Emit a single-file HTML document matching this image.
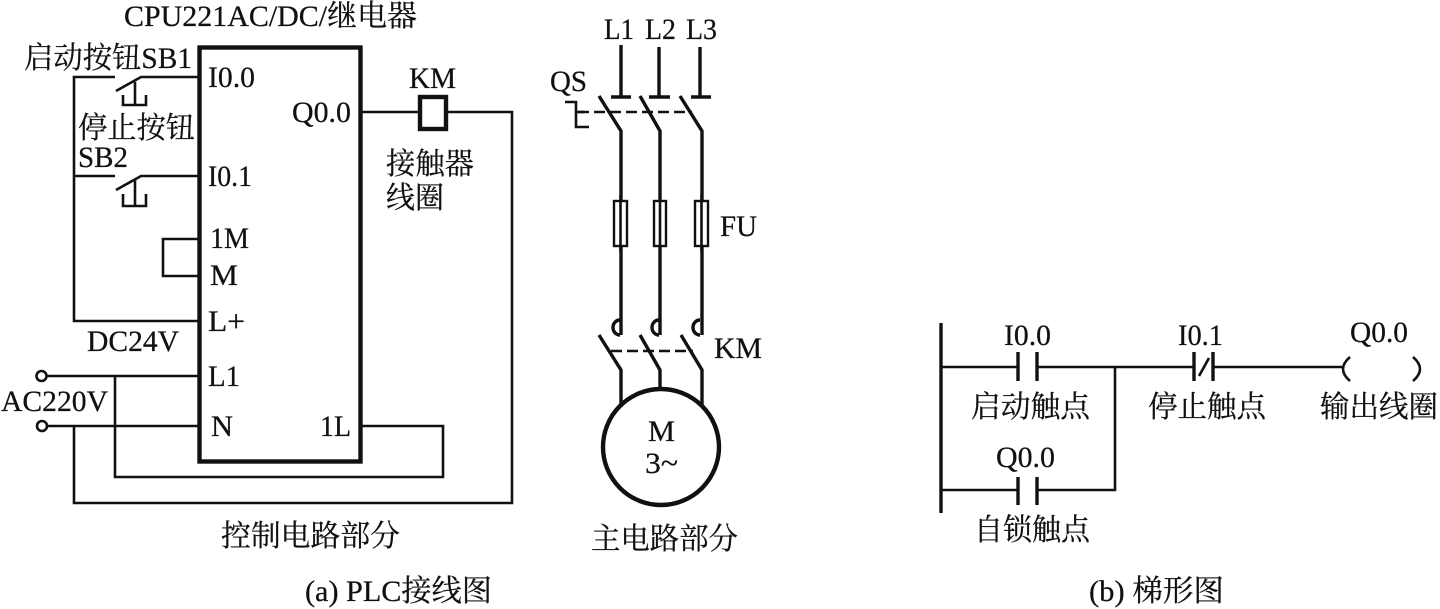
<!DOCTYPE html>
<html lang="zh">
<head>
<meta charset="utf-8">
<title>PLC接线图与梯形图</title>
<style>
html,body{margin:0;padding:0;background:#fff;width:1440px;height:609px;overflow:hidden}
svg{display:block}
text{font-family:"Liberation Serif","Noto Serif CJK SC",serif;font-size:30px;fill:#111;stroke:#111;stroke-width:.25}
.c{font-size:30px}
.w{fill:none;stroke:#111;stroke-width:2.6}
.t{fill:none;stroke:#111;stroke-width:3.4}
.b{fill:none;stroke:#111;stroke-width:4.4}
</style>
</head>
<body>
<svg width="1440" height="609" viewBox="0 0 1440 609" xmlns="http://www.w3.org/2000/svg">
<rect width="1440" height="609" fill="#fff"/>

<!-- PLC block -->
<rect class="b" x="199.5" y="47.5" width="161" height="414"/>

<!-- Input wiring -->
<path class="w" d="M199 77H141L116 91M115 77H74V321H199"/>
<path class="w" d="M135 82V105M123 95V105H146V95"/>
<path class="w" d="M199 176H141L116 190M115 176H74"/>
<path class="w" d="M135 180V206M123 194V206H146V194"/>
<path class="w" d="M199 239H163V276H199"/>

<!-- Power wiring -->
<circle class="w" cx="41.500" cy="376" r="5"/>
<circle class="w" cx="42" cy="426" r="5"/>
<path class="w" d="M47 376H199M47 426H199"/>
<path class="w" d="M115 376V477H443V426H360"/>
<path class="w" d="M74 426V503H512V112H446"/>

<!-- Coil -->
<path class="w" d="M360 112H419"/>
<rect class="b" x="420" y="97" width="26" height="32" />

<!-- Main circuit: incoming -->
<path class="t" d="M621 45V97M611 97H631M659 47V97M649 97H670M700 47V97M691 97H711"/>
<path class="t" d="M599 96L621 131V335M640 96L660 131V335M680 96L702 131V335"/>
<path class="w" stroke-dasharray="11 5" d="M578 112H692"/>
<path class="w" d="M565 102H576V127H589M576 112H584"/>

<!-- Fuses -->
<rect x="614" y="201" width="13" height="45" fill="#fff" stroke="#111" stroke-width="2.400"/>
<rect x="654" y="201" width="12" height="45" fill="#fff" stroke="#111" stroke-width="2.400"/>
<rect x="695" y="201" width="13" height="45" fill="#fff" stroke="#111" stroke-width="2.400"/>
<path class="w" d="M620.500 195V252M660 195V252M701.500 195V252"/>

<!-- Contactor -->
<path class="t" d="M620 320A7 7.500 0 0 0 620 335M659 320A7 7.500 0 0 0 659 335M700 320A7 7.500 0 0 0 700 335" />
<path class="t" d="M599 335L621 370V407M640 335L660 370V390M681 335L702 370V407"/>
<path class="w" stroke-dasharray="11 5" d="M611 351H693"/>

<!-- Motor -->
<circle class="b" cx="661" cy="447" r="58" fill="#fff"/>

<!-- Ladder -->
<path class="t" d="M941 323V513"/>
<path class="w" d="M941 367H1018M1037 367H1194M1213 367H1343"/>
<path class="w" d="M941 490H1018M1037 490H1115V367"/>
<path class="t" d="M1018 352V381M1037 352V381M1018 477V505M1037 477V505M1194 352V381M1213 352V381"/>
<path class="w" d="M1199 376L1209 358"/>
<path class="w" d="M1350 357Q1336 369 1350 381M1413 357Q1427 369 1413 381"/>

<!-- Labels: left -->
<text class="c" x="124" y="26" textLength="293" lengthAdjust="spacingAndGlyphs">CPU221AC/DC/继电器</text>
<text class="c" x="24" y="68" textLength="168" lengthAdjust="spacingAndGlyphs">启动按钮SB1</text>
<text x="208" y="87" textLength="47" lengthAdjust="spacingAndGlyphs">I0.0</text>
<text x="292" y="122" textLength="59" lengthAdjust="spacingAndGlyphs">Q0.0</text>
<text class="c" x="78" y="138" textLength="117" lengthAdjust="spacingAndGlyphs">停止按钮</text>
<text x="78" y="167" textLength="50" lengthAdjust="spacingAndGlyphs">SB2</text>
<text x="208" y="186" textLength="44" lengthAdjust="spacingAndGlyphs">I0.1</text>
<text x="210" y="248" textLength="39" lengthAdjust="spacingAndGlyphs">1M</text>
<text x="210" y="285" textLength="28" lengthAdjust="spacingAndGlyphs">M</text>
<text x="208" y="331" textLength="37" lengthAdjust="spacingAndGlyphs">L+</text>
<text x="87" y="351" textLength="92" lengthAdjust="spacingAndGlyphs">DC24V</text>
<text x="208" y="386" textLength="32" lengthAdjust="spacingAndGlyphs">L1</text>
<text x="1" y="411" textLength="107" lengthAdjust="spacingAndGlyphs">AC220V</text>
<text x="211" y="436" textLength="22" lengthAdjust="spacingAndGlyphs">N</text>
<text x="320" y="436" textLength="31" lengthAdjust="spacingAndGlyphs">1L</text>
<text x="409" y="88" textLength="47" lengthAdjust="spacingAndGlyphs">KM</text>
<text class="c" x="386" y="174" textLength="88" lengthAdjust="spacingAndGlyphs">接触器</text>
<text class="c" x="386" y="208" textLength="58" lengthAdjust="spacingAndGlyphs">线圈</text>
<text class="c" x="221" y="546" textLength="179" lengthAdjust="spacingAndGlyphs">控制电路部分</text>
<text x="305" y="601" textLength="187" lengthAdjust="spacingAndGlyphs">(a) PLC接线图</text>

<!-- Labels: main circuit -->
<text x="604" y="39" textLength="30" lengthAdjust="spacingAndGlyphs">L1</text>
<text x="645" y="39" textLength="31" lengthAdjust="spacingAndGlyphs">L2</text>
<text x="686" y="39" textLength="31" lengthAdjust="spacingAndGlyphs">L3</text>
<text x="550" y="91" textLength="37" lengthAdjust="spacingAndGlyphs">QS</text>
<text x="720" y="236" textLength="37" lengthAdjust="spacingAndGlyphs">FU</text>
<text x="714" y="358" textLength="48" lengthAdjust="spacingAndGlyphs">KM</text>
<text x="648" y="441" textLength="27" lengthAdjust="spacingAndGlyphs">M</text>
<text x="645" y="473" textLength="33" lengthAdjust="spacingAndGlyphs">3~</text>
<text class="c" x="591" y="549" textLength="147" lengthAdjust="spacingAndGlyphs">主电路部分</text>

<!-- Labels: ladder -->
<text x="1004" y="345" textLength="47" lengthAdjust="spacingAndGlyphs">I0.0</text>
<text x="1178" y="345" textLength="45" lengthAdjust="spacingAndGlyphs">I0.1</text>
<text x="1350" y="342" textLength="58" lengthAdjust="spacingAndGlyphs">Q0.0</text>
<text class="c" x="971" y="417" textLength="119" lengthAdjust="spacingAndGlyphs">启动触点</text>
<text class="c" x="1148" y="417" textLength="118" lengthAdjust="spacingAndGlyphs">停止触点</text>
<text class="c" x="1320" y="417" textLength="118" lengthAdjust="spacingAndGlyphs">输出线圈</text>
<text x="996" y="467" textLength="59" lengthAdjust="spacingAndGlyphs">Q0.0</text>
<text class="c" x="974" y="540" textLength="116" lengthAdjust="spacingAndGlyphs">自锁触点</text>
<text x="1089" y="601" textLength="135" lengthAdjust="spacingAndGlyphs">(b) 梯形图</text>
</svg>
</body>
</html>
